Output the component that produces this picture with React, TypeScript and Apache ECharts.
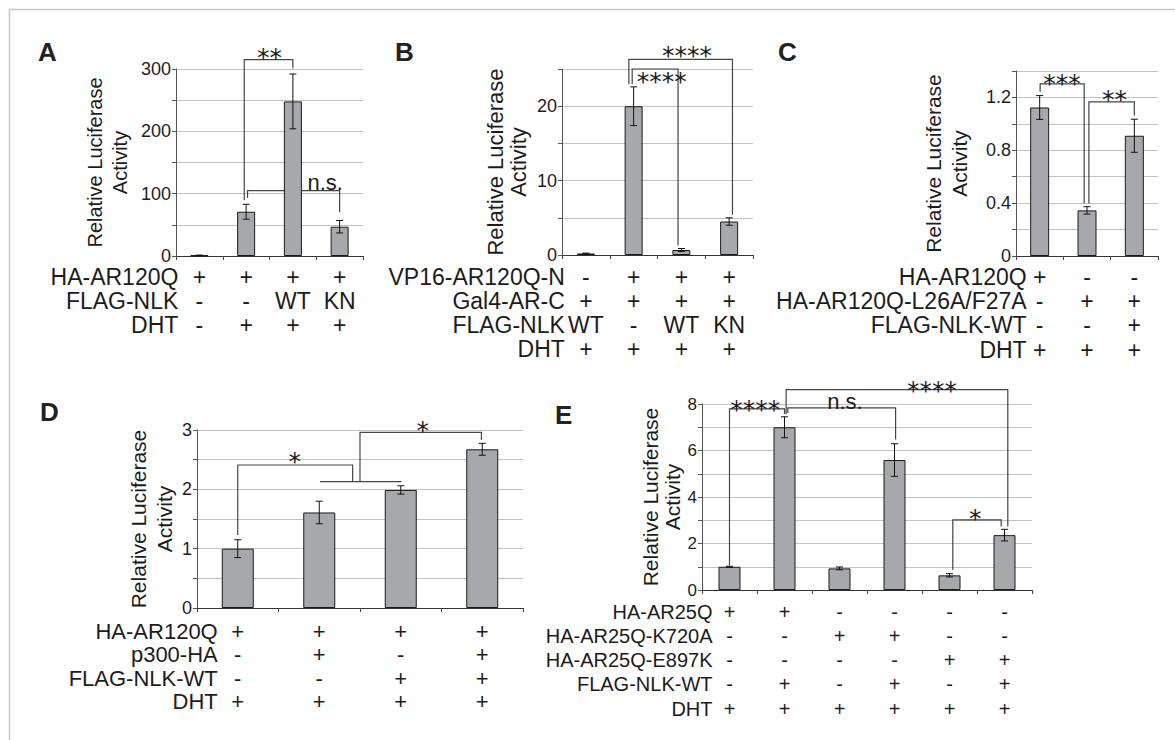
import React, { useEffect, useRef } from 'react';
import * as echarts from 'echarts';

const FONT = "'Liberation Sans', Arial, Helvetica, sans-serif";
const STAR_FONT = "'DejaVu Sans', sans-serif";
const TEXT = '#1c1c1c';
const BAR = '#a7a8ab';
const LINE = '#454545';
const GRIDLINE = '#c2c2c2';

type Bracket = { x1: number; x2: number; top: number; y1: number; y2: number; label: string; lx: number; ly: number };

// ---------- Panel A ----------
const catsA = ['1', '2', '3', '4'];
const valuesA = [1, 71, 248, 47];
const errorsA = [0.5, 12, 44, 10];
const ticksA = [0, 100, 200, 300];
const gridStepA = 50;
const maxA = 300;
const rowNamesA = ['HA-AR120Q', 'FLAG-NLK', 'DHT'];
const rowCellsA = [
  ['+', '+', '+', '+'],
  ['-', '-', 'WT', 'KN'],
  ['-', '+', '+', '+'],
];
const bracketsA: Bracket[] = [
  { x1: 0.96, x2: 2.0, top: 315, y1: 90, y2: 301, label: '**', lx: 1.5, ly: 330 },
  { x1: 1.03, x2: 3.0, top: 105, y1: 93, y2: 70, label: 'n.s.', lx: 2.69, ly: 118 },
];

// ---------- Panel B ----------
const catsB = ['1', '2', '3', '4'];
const valuesB = [0.2, 20, 0.67, 4.5];
const errorsB = [0.05, 2.6, 0.2, 0.5];
const ticksB = [0, 10, 20];
const gridStepB = 5;
const maxB = 25;
const rowNamesB = ['VP16-AR120Q-N', 'Gal4-AR-C', 'FLAG-NLK', 'DHT'];
const rowCellsB = [
  ['-', '+', '+', '+'],
  ['+', '+', '+', '+'],
  ['WT', '-', 'WT', 'KN'],
  ['+', '+', '+', '+'],
];
const bracketsB: Bracket[] = [
  { x1: 0.97, x2: 1.93, top: 25, y1: 23, y2: 1.3, label: '****', lx: 1.59, ly: 24.3 },
  { x1: 0.9, x2: 3.07, top: 26.3, y1: 23, y2: 5.4, label: '****', lx: 2.12, ly: 27.8 },
];

// ---------- Panel C ----------
const catsC = ['1', '2', '3'];
const valuesC = [1.124, 0.345, 0.91];
const errorsC = [0.09, 0.028, 0.125];
const ticksC = [0, 0.4, 0.8, 1.2];
const gridStepC = 0.2;
const maxC = 1.4;
const rowNamesC = ['HA-AR120Q', 'HA-AR120Q-L26A/F27A', 'FLAG-NLK-WT', 'DHT'];
const rowCellsC = [
  ['+', '-', '-'],
  ['-', '+', '+'],
  ['-', '-', '+'],
  ['+', '+', '+'],
];
const bracketsC: Bracket[] = [
  { x1: 0.01, x2: 0.94, top: 1.303, y1: 1.243, y2: 0.398, label: '***', lx: 0.47, ly: 1.36 },
  { x1: 1.04, x2: 2.0, top: 1.167, y1: 0.398, y2: 1.064, label: '**', lx: 1.58, ly: 1.235 },
];

// ---------- Panel D ----------
const catsD = ['1', '2', '3', '4'];
const valuesD = [1.0, 1.61, 1.99, 2.675];
const errorsD = [0.15, 0.19, 0.07, 0.1];
const ticksD = [0, 1, 2, 3];
const gridStepD = 0.5;
const maxD = 3;
const rowNamesD = ['HA-AR120Q', 'p300-HA', 'FLAG-NLK-WT', 'DHT'];
const rowCellsD = [
  ['+', '+', '+', '+'],
  ['-', '+', '-', '+'],
  ['-', '-', '+', '+'],
  ['+', '+', '+', '+'],
];
const bracketsD: Bracket[] = [
  { x1: 0, x2: 1.41, top: 2.41, y1: 1.23, y2: 2.14, label: '*', lx: 0.7, ly: 2.58 },
  { x1: 1.01, x2: 2.01, top: 2.13, y1: 2.13, y2: 2.13, label: '', lx: 0, ly: 0 },
  { x1: 1.5, x2: 2.99, top: 2.96, y1: 2.13, y2: 2.83, label: '*', lx: 2.27, ly: 3.11 },
];

// ---------- Panel E ----------
const catsE = ['1', '2', '3', '4', '5', '6'];
const valuesE = [1.0, 7.0, 0.93, 5.59, 0.63, 2.36];
const errorsE = [0.02, 0.45, 0.06, 0.7, 0.07, 0.25];
const ticksE = [0, 2, 4, 6, 8];
const gridStepE = 1;
const maxE = 8;
const rowNamesE = ['HA-AR25Q', 'HA-AR25Q-K720A', 'HA-AR25Q-E897K', 'FLAG-NLK-WT', 'DHT'];
const rowCellsE = [
  ['+', '+', '-', '-', '-', '-'],
  ['-', '-', '+', '+', '-', '-'],
  ['-', '-', '-', '-', '+', '+'],
  ['-', '+', '-', '+', '-', '+'],
  ['+', '+', '+', '+', '+', '+'],
];
const bracketsE: Bracket[] = [
  { x1: 0, x2: 1.0, top: 7.79, y1: 1.05, y2: 7.57, label: '****', lx: 0.47, ly: 8.05 },
  { x1: 1.06, x2: 3.02, top: 7.83, y1: 7.61, y2: 6.47, label: 'n.s.', lx: 2.1, ly: 8.1 },
  { x1: 1.03, x2: 5.06, top: 8.62, y1: 7.57, y2: 2.73, label: '****', lx: 3.68, ly: 8.9 },
  { x1: 4.06, x2: 4.94, top: 3.02, y1: 0.86, y2: 2.73, label: '*', lx: 4.47, ly: 3.38 },
];

type Panel = {
  letter: string;
  letterPos: [number, number];
  grid: { left: number; top: number; width: number; height: number };
  cats: string[];
  values: number[];
  errors: number[];
  ticks: number[];
  step: number;
  max: number;
  rowNames: string[];
  rowCells: string[][];
  brackets: Bracket[];
  barWidth: number;
  tickFont: number;
  nameFont: number;
  nameLH: number;
  nameGap: number;
  tableFont: number;
  firstRow: number;
  rowH: number;
  labelGap: number;
};

const panels: Panel[] = [
  {
    letter: 'A', letterPos: [38, 39], grid: { left: 176, top: 69, width: 187, height: 187 },
    cats: catsA, values: valuesA, errors: errorsA, ticks: ticksA, step: gridStepA, max: maxA,
    rowNames: rowNamesA, rowCells: rowCellsA, brackets: bracketsA, barWidth: 18,
    tickFont: 18, nameFont: 20, nameLH: 25, nameGap: 44, tableFont: 23, firstRow: 21, rowH: 24.2, labelGap: 21,
  },
  {
    letter: 'B', letterPos: [395, 39], grid: { left: 562, top: 69, width: 191, height: 186 },
    cats: catsB, values: valuesB, errors: errorsB, ticks: ticksB, step: gridStepB, max: maxB,
    rowNames: rowNamesB, rowCells: rowCellsB, brackets: bracketsB, barWidth: 18,
    tickFont: 18, nameFont: 22, nameLH: 23, nameGap: 32, tableFont: 23, firstRow: 22, rowH: 24, labelGap: 21,
  },
  {
    letter: 'C', letterPos: [778, 39], grid: { left: 1016, top: 71, width: 142, height: 185 },
    cats: catsC, values: valuesC, errors: errorsC, ticks: ticksC, step: gridStepC, max: maxC,
    rowNames: rowNamesC, rowCells: rowCellsC, brackets: bracketsC, barWidth: 19,
    tickFont: 18, nameFont: 21, nameLH: 26, nameGap: 44, tableFont: 23, firstRow: 21, rowH: 24.2, labelGap: 13,
  },
  {
    letter: 'D', letterPos: [40, 399], grid: { left: 197, top: 430, width: 326, height: 178 },
    cats: catsD, values: valuesD, errors: errorsD, ticks: ticksD, step: gridStepD, max: maxD,
    rowNames: rowNamesD, rowCells: rowCellsD, brackets: bracketsD, barWidth: 32,
    tickFont: 18, nameFont: 21, nameLH: 26, nameGap: 20, tableFont: 22, firstRow: 23.4, rowH: 23.4, labelGap: 20,
  },
  {
    letter: 'E', letterPos: [555, 402], grid: { left: 702, top: 404, width: 330, height: 186 },
    cats: catsE, values: valuesE, errors: errorsE, ticks: ticksE, step: gridStepE, max: maxE,
    rowNames: rowNamesE, rowCells: rowCellsE, brackets: bracketsE, barWidth: 22,
    tickFont: 17, nameFont: 21, nameLH: 22, nameGap: 16, tableFont: 20, firstRow: 21.7, rowH: 24.2, labelGap: 17,
  },
];

function buildOption() {
  const grid: any[] = [];
  const xAxis: any[] = [];
  const yAxis: any[] = [];
  const series: any[] = [];
  const graphic: any[] = [
    {
      type: 'rect', z: 0, silent: true,
      shape: { x: 9.5, y: 9.5, width: 1300, height: 900 },
      style: { fill: 'none', stroke: '#c8c8c8', lineWidth: 1.5 },
    },
  ];

  panels.forEach((p, k) => {
    grid.push({ ...p.grid, containLabel: false });
    xAxis.push({
      type: 'category', gridIndex: k, data: p.cats,
      axisLine: { show: true, lineStyle: { color: '#333', width: 1 } },
      axisTick: { show: true, length: 4, lineStyle: { color: '#444' } },
      axisLabel: { show: false },
      splitLine: { show: false },
    });
    const ticks = p.ticks;
    yAxis.push({
      type: 'value', gridIndex: k, min: 0, max: p.max, interval: p.step,
      name: 'Relative Luciferase\nActivity', nameLocation: 'middle', nameRotate: 90, nameGap: p.nameGap,
      nameTextStyle: { fontSize: p.nameFont, lineHeight: p.nameLH, fontFamily: FONT, color: TEXT },
      axisLine: { show: true, lineStyle: { color: '#555', width: 1 } },
      axisTick: { show: true, length: 4, lineStyle: { color: '#555' } },
      splitLine: { show: true, lineStyle: { color: GRIDLINE, width: 1 } },
      axisLabel: {
        fontSize: p.tickFont, fontFamily: FONT, color: TEXT, margin: 5,
        formatter: (v: number) => {
          const t = ticks.find((tt) => Math.abs(tt - v) < 1e-6);
          return t === undefined ? '' : String(t);
        },
      },
    });

    // significance brackets (under the bars)
    const br = p.brackets;
    series.push({
      type: 'custom', xAxisIndex: k, yAxisIndex: k, z: 1, silent: true, clip: false,
      data: br.map((b) => [Math.round(b.x1), b.top]),
      renderItem: (params: any, api: any) => {
        const b = br[params.dataIndex];
        const band = api.size([1, 0])[0];
        const x0 = api.coord([0, 0])[0];
        const X = (f: number) => x0 + f * band;
        const Y = (v: number) => api.coord([0, v])[1];
        const children: any[] = [
          {
            type: 'polyline',
            shape: { points: [[X(b.x1), Y(b.y1)], [X(b.x1), Y(b.top)], [X(b.x2), Y(b.top)], [X(b.x2), Y(b.y2)]] },
            style: { stroke: LINE, lineWidth: 1.2, fill: 'none' },
          },
        ];
        if (b.label) {
          const isStar = b.label.indexOf('*') >= 0;
          children.push({
            type: 'text', x: X(b.lx), y: Y(b.ly) + (isStar ? 7 : 0),
            style: {
              text: b.label, align: 'center', verticalAlign: 'middle',
              fontSize: isStar ? 25 : 22, lineHeight: isStar ? 14 : 20,
              fontFamily: isStar ? STAR_FONT : FONT, fill: TEXT,
            },
          });
        }
        return { type: 'group', children };
      },
    });

    series.push({
      type: 'bar', xAxisIndex: k, yAxisIndex: k, data: p.values, barWidth: p.barWidth, z: 2, silent: true,
      itemStyle: { color: BAR, borderColor: '#1a1a1a', borderWidth: 1 },
    });

    const vals = p.values;
    const errs = p.errors;
    series.push({
      type: 'custom', xAxisIndex: k, yAxisIndex: k, z: 3, silent: true, clip: false,
      data: vals.map((v, i) => [i, v - errs[i], v + errs[i]]),
      encode: { x: 0, y: [1, 2] },
      renderItem: (params: any, api: any) => {
        const i = api.value(0);
        const lo = api.coord([i, api.value(1)]);
        const hi = api.coord([i, api.value(2)]);
        const h = 3.5;
        const st = { stroke: '#111', lineWidth: 1 };
        return {
          type: 'group',
          children: [
            { type: 'line', shape: { x1: lo[0], y1: lo[1], x2: hi[0], y2: hi[1] }, style: st },
            { type: 'line', shape: { x1: lo[0] - h, y1: lo[1], x2: lo[0] + h, y2: lo[1] }, style: st },
            { type: 'line', shape: { x1: hi[0] - h, y1: hi[1], x2: hi[0] + h, y2: hi[1] }, style: st },
          ],
        };
      },
    });

    // condition table below the axis
    const names = p.rowNames;
    const cells = p.rowCells;
    series.push({
      type: 'custom', xAxisIndex: k, yAxisIndex: k, z: 3, silent: true, clip: false,
      data: names.map(() => [0, 0]),
      renderItem: (params: any, api: any) => {
        const r = params.dataIndex;
        const base = api.coord([0, 0]);
        const y = base[1] + p.firstRow + r * p.rowH;
        const ts = {
          fontSize: p.tableFont, lineHeight: Math.floor(p.rowH) - 2,
          fontFamily: FONT, fill: TEXT, verticalAlign: 'middle',
        };
        const children: any[] = [
          { type: 'text', x: base[0] - p.labelGap, y, style: { ...ts, text: names[r], align: 'right' } },
        ];
        cells[r].forEach((c, ci) => {
          const pt = api.coord([ci, 0]);
          children.push({ type: 'text', x: pt[0], y, style: { ...ts, text: c, align: 'center' } });
        });
        return { type: 'group', children };
      },
    });

    graphic.push({
      type: 'text', x: p.letterPos[0], y: p.letterPos[1], silent: true,
      style: { text: p.letter, fontSize: 26, fontWeight: 'bold', fontFamily: FONT, fill: '#222', verticalAlign: 'top' },
    });
  });

  return {
    animation: false,
    backgroundColor: '#ffffff',
    grid, xAxis, yAxis, series, graphic,
  };
}

export default function App() {
  const ref = useRef<HTMLDivElement>(null);
  useEffect(() => {
    if (!ref.current) return;
    const chart = echarts.init(ref.current, undefined, { renderer: 'svg' });
    chart.setOption(buildOption() as any);
    return () => chart.dispose();
  }, []);
  return (
    <div
      ref={ref}
      style={{ position: 'absolute', left: 0, top: 0, width: 1175, height: 740, background: '#fff' }}
    />
  );
}
